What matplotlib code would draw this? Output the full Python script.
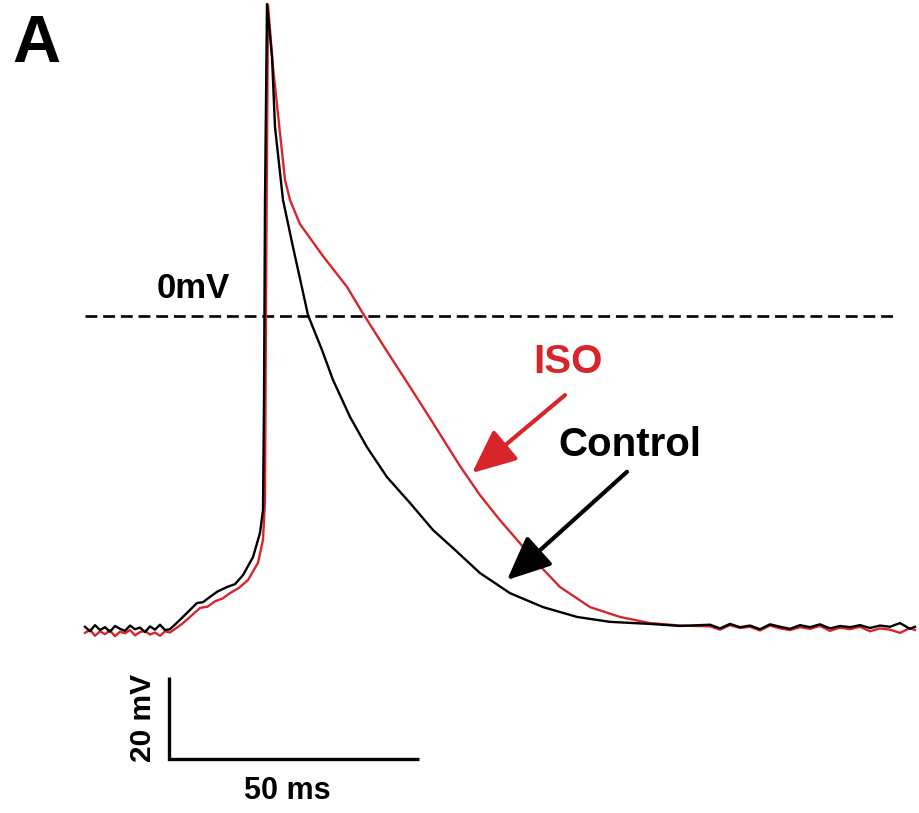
import matplotlib
matplotlib.use("Agg")
import matplotlib.pyplot as plt

plt.rcParams['font.family'] = ['Liberation Sans', 'DejaVu Sans']

# time (ms) and membrane potential (mV)
control_t = [0, 1, 2, 3, 4, 5, 6, 7, 8, 9, 10, 11, 12, 13, 14, 15, 16, 17,
             19.0, 20.5, 22.4, 23.6, 25.0, 26.5, 28.4, 30.0, 31.6, 33.6, 35.0, 35.6, 35.8, 36.0, 36.4,
             37.4, 38.0, 39.6, 41.6, 43.2, 44.6, 47.4, 49.6, 53.0, 56.4, 60.4, 65.0, 69.6, 73.6,
             79.0, 85.0, 91.6, 98.4, 105.0, 113.0, 119.0,
             125, 127, 129, 131, 133, 135, 137, 139, 141, 143, 145, 147, 149, 151, 153,
             155, 157, 159, 161, 163, 165, 166]
control_v = [-75.8, -76.9, -75.4, -76.6, -75.9, -77.0, -75.6, -76.3, -76.8, -75.5, -76.4, -76.0,
             -77.1, -75.7, -76.5, -75.3, -76.6, -76.4,
             -74.1, -72.3, -70.0, -69.8, -68.5, -67.2, -66.1, -65.4, -63.2, -58.8, -52.9, -47.3,
             -20.5, 28.3, 76.1,
             63.2, 46.1, 28.3, 16.8, 8.0, 0.2, -8.3, -15.6, -24.6, -32.0, -39.3, -45.6, -52.2, -56.6,
             -62.7, -67.6, -71.0, -73.4, -74.6, -75.1, -75.6,
             -75.3, -76.2, -75.1, -75.9, -75.5, -76.4, -75.2, -75.8, -76.3, -75.4, -75.9, -75.2,
             -76.2, -75.6, -75.9, -75.4, -76.1, -75.5, -75.8, -74.9, -76.3, -75.8]

iso_t = [0, 1, 2, 3, 4, 5, 6, 7, 8, 9, 10, 11, 12, 13, 14, 15, 16, 17,
         19.4, 21.0, 23.0, 24.5, 26.0, 27.5, 29.0, 30.8, 32.6, 34.6, 35.6, 36.0, 36.2, 36.6,
         37.6, 39.0, 40.0, 41.0, 43.0, 47.6, 52.4, 55.4, 59.6, 65.0, 69.6, 75.0,
         79.0, 83.0, 86.4, 90.4, 95.0, 101.0, 107.0, 113.0, 119.0,
         125, 127, 129, 131, 133, 135, 137, 139, 141, 143, 145, 147, 149, 151, 153,
         155, 157, 159, 161, 163, 165, 166]
iso_v = [-77.3, -76.5, -78.0, -76.9, -77.6, -76.7, -78.1, -77.0, -77.4, -76.6, -77.9, -77.1,
         -76.8, -77.7, -77.2, -78.0, -76.9, -77.2,
         -75.1, -73.4, -71.2, -70.9, -69.6, -68.9, -67.6, -66.3, -64.4, -60.2, -54.6, -44.9,
         3.9, 75.9,
         60.7, 44.6, 33.2, 28.3, 22.4, 14.6, 7.1, 1.0, -7.1, -17.3, -26.1, -36.6,
         -43.7, -49.8, -54.6, -60.2, -66.1, -71.0, -73.4, -74.9, -75.5,
         -75.7, -76.5, -75.4, -76.1, -75.8, -76.7, -75.5, -76.2, -76.6, -75.9, -76.3, -75.6,
         -76.8, -76.0, -76.4, -75.8, -76.9, -76.2, -76.5, -77.3, -76.1, -76.6]

red = '#d7262b'

fig = plt.figure(figsize=(9.19, 8.13), dpi=100)
ax = fig.add_axes([0, 0, 1, 1])
ax.set_xlim(-17, 166.8)
ax.set_ylim(-121.22, 77.07)
ax.axis('off')

# 0 mV reference line
ax.plot([0, 161.6], [0, 0], color='black', lw=1.9, ls=(0, (4.5, 2.2)))
ax.text(21.6, 6.6, '0mV', fontsize=25, fontweight='bold', ha='center', va='center')

ax.plot(iso_t, iso_v, color=red, lw=1.7, solid_joinstyle='round')
ax.plot(control_t, control_v, color='black', lw=1.7, solid_joinstyle='round')

ax.text(96.6, -11.2, 'ISO', color=red, fontsize=29, fontweight='bold', ha='center', va='center')
ax.text(109, -31.5, 'Control', color='black', fontsize=29, fontweight='bold',
        ha='center', va='center')

ax.annotate('', xy=(77.4, -38.3), xytext=(96, -19.3),
            arrowprops=dict(arrowstyle='-|>,head_length=1.35,head_width=0.6',
                            mutation_scale=20, color=red, lw=3, shrinkA=0, shrinkB=0))
ax.annotate('', xy=(84.4, -64.4), xytext=(108.4, -38),
            arrowprops=dict(arrowstyle='-|>,head_length=1.35,head_width=0.6',
                            mutation_scale=20, color='black', lw=3, shrinkA=0, shrinkB=0))

# scale bar: 20 mV / 50 ms
ax.plot([16.8, 16.8, 66.8], [-88, -108, -108], color='black', lw=2.4,
        solid_joinstyle='miter', solid_capstyle='butt')
ax.text(11.6, -98, '20 mV', fontsize=21.5, fontweight='bold', rotation=90,
        ha='center', va='center')
ax.text(40.4, -115.9, '50 ms', fontsize=22, fontweight='bold', ha='center', va='center')

ax.text(-9.8, 66.1, 'A', fontsize=48, fontweight='bold', ha='center', va='center')

fig.savefig('out.png', dpi=100)
